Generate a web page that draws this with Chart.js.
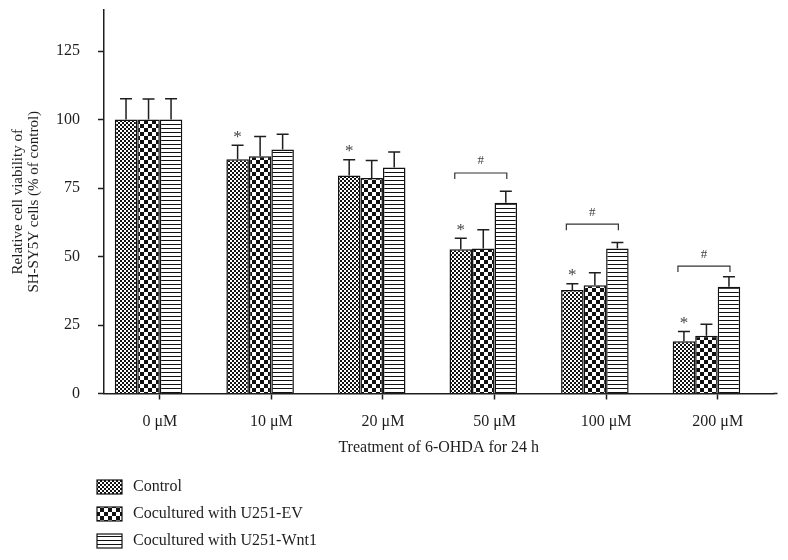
<!DOCTYPE html>
<html>
<head>
<meta charset="utf-8">
<script src="https://cdn.jsdelivr.net/npm/chart.js@4.4.1/dist/chart.umd.min.js"></script>
<style>
  html, body { margin: 0; padding: 0; background: #fff; }
</style>
</head>
<body>
<canvas id="viabilityChart" width="788" height="560"></canvas>
<script>
'use strict';

// --- data ---
const DOSES = ['0 μM', '10 μM', '20 μM', '50 μM', '100 μM', '200 μM'];
const Y_TICKS = [0, 25, 50, 75, 100, 125];

const CONTROL     = [100, 85.5, 79.6, 52.7, 37.8, 19.1];
const CONTROL_ERR = [7.6, 5.1, 5.7, 4.0, 2.3, 3.5];
const EV          = [100, 86.6, 78.7, 52.9, 39.5, 21.1];
const EV_ERR      = [7.5, 7.2, 6.4, 6.9, 4.6, 4.2];
const WNT1        = [100, 89.1, 82.5, 69.6, 52.9, 39.0];
const WNT1_ERR    = [7.6, 5.5, 5.7, 4.2, 2.2, 3.6];

// * = control vs 0 uM, # = control vs Wnt1 (bracket height in y units)
const STAR_IDX   = [1, 2, 3, 4, 5];
const HASH_IDX   = [3, 4, 5];
const HASH_LEVEL = [80.5, 61.8, 46.5];

const SERIF = "'Liberation Serif', 'DejaVu Serif', serif";
const INK = '#1e1e1e';

const canvas = document.getElementById('viabilityChart');
const ctx = canvas.getContext('2d');

function makePattern(w, h, draw) {
  const c = document.createElement('canvas');
  c.width = w; c.height = h;
  const g = c.getContext('2d');
  g.fillStyle = '#fff';
  g.fillRect(0, 0, w, h);
  g.fillStyle = '#111';
  draw(g);
  return ctx.createPattern(c, 'repeat');
}

const fineChecker   = makePattern(4, 4, g => { g.fillRect(0, 0, 2, 2); g.fillRect(2, 2, 2, 2); });
const coarseChecker = makePattern(8, 8, g => { g.fillRect(0, 0, 4, 4); g.fillRect(4, 4, 4, 4); });
const hLines        = makePattern(4, 4, g => { g.fillRect(0, 0, 4, 1); });

// error bars, significance marks, legend
const annotations = {
  id: 'annotations',
  afterDatasetsDraw(chart) {
    const { ctx: c, scales: { y }, chartArea } = chart;
    c.save();
    c.strokeStyle = INK;
    c.lineWidth = 1.5;

    chart.data.datasets.forEach((ds, di) => {
      if (!ds.errors) return;
      chart.getDatasetMeta(di).data.forEach((bar, i) => {
        const top = y.getPixelForValue(ds.data[i] + ds.errors[i]);
        c.beginPath();
        c.moveTo(bar.x, bar.y);
        c.lineTo(bar.x, top);
        c.moveTo(bar.x - 6, top);
        c.lineTo(bar.x + 6, top);
        c.stroke();
      });
    });

    const ctrlBars = chart.getDatasetMeta(0).data;
    const wntBars = chart.getDatasetMeta(2).data;
    c.fillStyle = '#444';
    c.textAlign = 'center';
    c.textBaseline = 'middle';

    c.font = '17px ' + SERIF;
    STAR_IDX.forEach(i => {
      const top = y.getPixelForValue(CONTROL[i] + CONTROL_ERR[i]);
      c.fillText('*', ctrlBars[i].x, top - 8);
    });

    c.lineWidth = 1.2;
    c.strokeStyle = '#333';
    c.font = '13px ' + SERIF;
    HASH_IDX.forEach((i, k) => {
      const yb = y.getPixelForValue(HASH_LEVEL[k]);
      const x1 = ctrlBars[i].x - 6;
      const x2 = wntBars[i].x + 1;
      c.beginPath();
      c.moveTo(x1, yb + 6);
      c.lineTo(x1, yb);
      c.lineTo(x2, yb);
      c.lineTo(x2, yb + 6);
      c.stroke();
      c.fillText('#', (x1 + x2) / 2, yb - 12);
    });

    // small overhang of the x axis past the last category
    c.strokeStyle = INK;
    c.lineWidth = 1.5;
    c.beginPath();
    c.moveTo(chartArea.right, chartArea.bottom);
    c.lineTo(chartArea.right + 4, chartArea.bottom);
    c.stroke();

    // legend (vertical list under the axis title)
    c.textAlign = 'left';
    c.font = '16px ' + SERIF;
    chart.data.datasets.filter(ds => ds.errors).forEach((ds, k) => {
      const cy = 487 + k * 27;
      c.fillStyle = ds.backgroundColor;
      c.fillRect(97, cy - 7, 25, 14);
      c.strokeStyle = '#111';
      c.lineWidth = 1.2;
      c.strokeRect(97, cy - 7, 25, 14);
      c.fillStyle = INK;
      c.fillText(ds.label, 133, cy);
    });
    c.restore();
  },
};

new Chart(ctx, {
  type: 'bar',
  data: {
    labels: DOSES,
    datasets: [
      { label: 'Control', data: CONTROL, errors: CONTROL_ERR, backgroundColor: fineChecker },
      { label: 'Cocultured with U251-EV', data: EV, errors: EV_ERR, backgroundColor: coarseChecker },
      { label: 'Cocultured with U251-Wnt1', data: WNT1, errors: WNT1_ERR, backgroundColor: hLines },
      // empty slot: puts the category tick on the EV / Wnt1 boundary like the original
      { label: '', data: [null, null, null, null, null, null] },
    ],
  },
  options: {
    responsive: false,
    animation: false,
    layout: { padding: { left: 0, right: 14.5, top: 10, bottom: 96.5 } },
    datasets: {
      bar: {
        borderColor: '#111',
        borderWidth: 1.5,
        categoryPercentage: 0.807,
        barPercentage: 1.0,
      },
    },
    plugins: { legend: { display: false }, tooltip: { enabled: false } },
    scales: {
      x: {
        offset: true,
        border: { color: INK, width: 1.5 },
        grid: { drawOnChartArea: false, offset: false, tickLength: 6, tickColor: INK, tickWidth: 1.5 },
        ticks: { color: INK, font: { family: SERIF, size: 16 }, padding: 13 },
        title: {
          display: true,
          text: 'Treatment of 6-OHDA for 24 h',
          color: INK,
          font: { family: SERIF, size: 16 },
          padding: { top: 0, bottom: 6 },
        },
        afterFit(s) {
          s.height = 70;
          s.paddingLeft = 0;
          s.paddingRight = 0;
        },
      },
      y: {
        min: 0,
        max: 140,
        border: { color: INK, width: 1.5 },
        grid: { drawOnChartArea: false, tickLength: 6, tickColor: INK, tickWidth: 1.5 },
        ticks: { color: INK, font: { family: SERIF, size: 16 }, padding: 18 },
        afterBuildTicks(s) { s.ticks = Y_TICKS.map(v => ({ value: v })); },
        title: {
          display: true,
          text: ['Relative cell viability of', 'SH-SY5Y cells (% of control)'],
          color: INK,
          font: { family: SERIF, size: 15, lineHeight: 1.05 },
          padding: { top: 10, bottom: 0 },
        },
        afterFit(s) {
          s.width = 104;
          s.paddingTop = 0;
          s.paddingBottom = 0;
        },
      },
    },
  },
  plugins: [annotations],
});
</script>
</body>
</html>
